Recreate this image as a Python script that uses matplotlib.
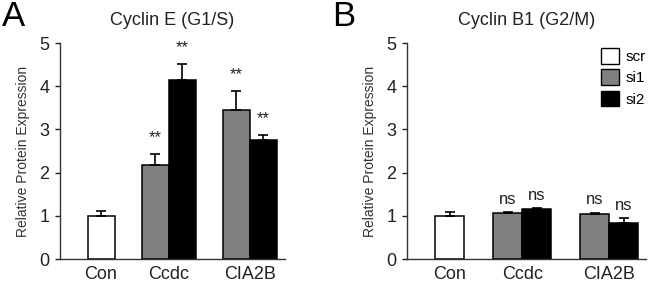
import numpy as np
import matplotlib
matplotlib.use("Agg")
import matplotlib.pyplot as plt
from matplotlib.patches import Patch

plt.rcParams['font.family'] = ['Liberation Sans', 'DejaVu Sans']

categories = ['Con', 'Ccdc', 'CIA2B']
series = ['scr', 'si1', 'si2']

# Panel A: Cyclin E (G1/S)
cycE_con, cycE_con_err = 1.00, 0.10
cycE_si1 = [2.17, 3.44]
cycE_si1_err = [0.25, 0.44]
cycE_si2 = [4.14, 2.75]
cycE_si2_err = [0.37, 0.11]
cycE_sig_si1 = ['**', '**']
cycE_sig_si2 = ['**', '**']

# Panel B: Cyclin B1 (G2/M)
cycB_con, cycB_con_err = 1.00, 0.09
cycB_si1 = [1.06, 1.05]
cycB_si1_err = [0.02, 0.02]
cycB_si2 = [1.16, 0.84]
cycB_si2_err = [0.02, 0.11]
cycB_sig_si1 = ['ns', 'ns']
cycB_sig_si2 = ['ns', 'ns']

colors = {'scr': 'white', 'si1': '#808080', 'si2': 'black'}

W, H = 657, 282
fig = plt.figure(figsize=(W / 100, H / 100), dpi=100)

centers = np.array([0.0, 2.5, 5.5])

def panel(rect, xlim, title, con, con_err, s1, s1e, s2, s2e, sig1, sig2,
          sigsize, sigoff, legend=False):
    ax = fig.add_axes(rect)
    ekw = dict(ecolor='black', elinewidth=1.2, capsize=3.5, capthick=1.2)
    bkw = dict(width=1.0, edgecolor='black', linewidth=1.1, zorder=2)
    ax.bar(centers[0], con, color=colors['scr'],
           yerr=[[0], [con_err]], error_kw=ekw, **bkw)
    x1 = centers[1:] - 0.5
    x2 = centers[1:] + 0.5
    ax.bar(x1, s1, color=colors['si1'],
           yerr=[np.zeros(len(s1)), s1e], error_kw=ekw, **bkw)
    ax.bar(x2, s2, color=colors['si2'],
           yerr=[np.zeros(len(s2)), s2e], error_kw=ekw, **bkw)
    for xs, vals, errs, sigs in ((x1, s1, s1e, sig1), (x2, s2, s2e, sig2)):
        for x, v, e, s in zip(xs, vals, errs, sigs):
            ax.text(x, v + e + sigoff, s, ha='center', va='center',
                    fontsize=sigsize, color='#222222')
    ax.set_xlim(*xlim)
    ax.set_ylim(0, 5)
    ax.set_yticks(range(0, 6))
    ax.set_xticks(centers)
    ax.set_xticklabels(categories)
    ax.tick_params(axis='x', length=0, labelsize=13, pad=5, colors='#222222')
    ax.tick_params(axis='y', length=3.5, width=1, labelsize=13, pad=4,
                   colors='#222222', direction='out')
    for s in ('top', 'right'):
        ax.spines[s].set_visible(False)
    for s in ('left', 'bottom'):
        ax.spines[s].set_color('#333333')
        ax.spines[s].set_linewidth(1.0)
    ax.set_ylabel('Relative Protein Expression', fontsize=10, color='#333333',
                  labelpad=7)
    ax.set_title(title, fontsize=13, color='#222222', pad=13)
    if legend:
        handles = [Patch(facecolor=colors[k], edgecolor='black', linewidth=1.0,
                         label=k) for k in series]
        ax.legend(handles=handles, loc='upper right', bbox_to_anchor=(1.055, 1.04),
                  frameon=False, fontsize=11, handlelength=1.2, handleheight=1.2,
                  handletextpad=0.4, labelspacing=0.35)
    return ax

axA = panel([60 / W, 23 / H, 225 / W, 216 / H], (-1.52, 6.81), 'Cyclin E (G1/S)',
            cycE_con, cycE_con_err, cycE_si1, cycE_si1_err, cycE_si2, cycE_si2_err,
            cycE_sig_si1, cycE_sig_si2, 12, 0.38)
axB = panel([407 / W, 23 / H, 239 / W, 216 / H], (-1.48, 6.76), 'Cyclin B1 (G2/M)',
            cycB_con, cycB_con_err, cycB_si1, cycB_si1_err, cycB_si2, cycB_si2_err,
            cycB_sig_si1, cycB_sig_si2, 12, 0.3, legend=True)

fig.text(2 / W, 1 - 26 / H, 'A', fontsize=25, ha='left', va='baseline', color='black')
fig.text(332 / W, 1 - 26 / H, 'B', fontsize=25, ha='left', va='baseline', color='black')

fig.savefig('out.png', dpi=100)
